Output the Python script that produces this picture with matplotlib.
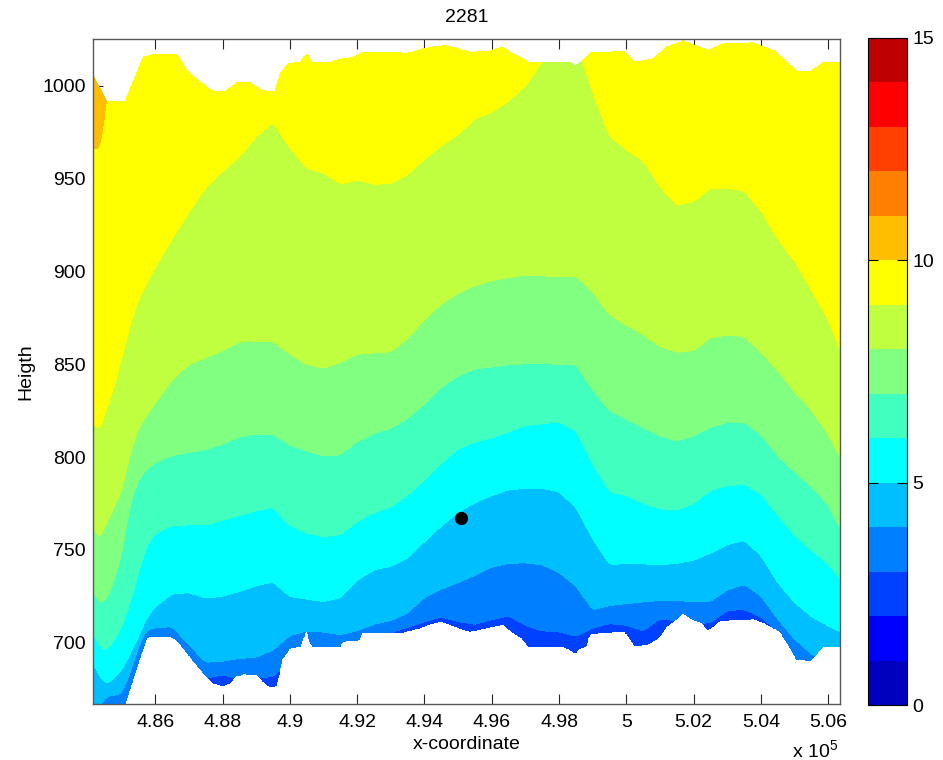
import numpy as np
import matplotlib
matplotlib.use('Agg')
import matplotlib.pyplot as plt
from matplotlib.ticker import FuncFormatter

plt.rcParams['font.family'] = ['Liberation Sans', 'DejaVu Sans']
plt.rcParams['mathtext.default'] = 'regular'

# ---------------- data ----------------
title = '2281'
x_label = 'x-coordinate'
y_label = 'Heigth'

level_edges = list(range(0, 16))
band_colors = ['#0000BF', '#0000FF', '#0040FF', '#0080FF', '#00BFFF', '#00FFFF',
               '#40FFBF', '#80FF80', '#BFFF40', '#FFFF00', '#FFBF00', '#FF8000',
               '#FF4000', '#FF0000', '#BF0000']
cbar_ticks = [0, 5, 10, 15]
x_ticks = [486000, 488000, 490000, 492000, 494000, 496000, 498000, 500000, 502000, 504000, 506000]
y_ticks = [700, 750, 800, 850, 900, 950, 1000]

# x positions where the contour-level heights were read
kx = [484150, 484350, 484550, 484800, 485000, 485250, 485500, 485750, 486000, 486500,
      487000, 487500, 488000, 488500, 489000, 489500, 490000, 490500, 491000, 491500,
      492000, 492500, 493000, 493500, 494000, 494500, 495000, 495500, 496000, 496500,
      497000, 497500, 498000, 498500, 499000, 499500, 500000, 500500, 501000, 501500,
      502000, 502500, 503000, 503500, 504000, 504500, 505000, 505500, 506000, 506350]

# height of each iso-level (value 3 ... 10) along kx
lev3 = [660, 660, 660, 660, 660, 665, 675, 685, 690, 690, 680, 681, 683, 680.5, 681, 682,
        690, 695, 695, 695, 698, 703, 705.5, 708.5, 711.5, 714, 711.5, 710, 712.5, 714.5,
        709.5, 706.5, 706, 703.5, 708, 710.5, 709.5, 706.5, 713, 712, 710, 711, 717.5,
        718, 714, 706, 688, 685, 685, 685]
lev4 = [663, 666, 671, 672, 673, 684, 698, 707, 708.2, 708.7, 699, 689.5, 690, 691.6,
        692.2, 696.2, 703.9, 706.4, 705.8, 704.4, 706.5, 710, 712, 716, 724.4, 728.9,
        732.4, 736.4, 740.8, 742.8, 743.1, 742, 737.8, 730.5, 717.8, 720, 721.1, 722,
        722.8, 722.7, 722.2, 722.3, 728.4, 731.5, 725.2, 712.8, 702, 694, 689, 688]
lev5 = [689, 682, 677.8, 681.5, 685.3, 693.8, 703.4, 713.3, 719.4, 726.3, 727, 724,
        725.2, 727.6, 730.7, 732.8, 724.9, 723.5, 722.2, 724.3, 733.7, 739.3, 741.2,
        745.5, 754.5, 762.9, 770.2, 775.6, 779.3, 782.4, 783.2, 783.2, 781.3, 773, 756,
        742.2, 742.6, 742.5, 742, 742.8, 744.5, 748.3, 752.9, 755.2, 747, 732.4, 721.7,
        714.1, 709.2, 706]
lev6 = [706, 697.9, 696, 702.3, 708.5, 721, 737.9, 752, 758.8, 763.2, 763.5, 763.5, 766,
        768.6, 771.1, 773, 763.1, 759.1, 757.2, 758.3, 765.3, 769.9, 773.1, 779.4, 787.7,
        796.5, 804.3, 808.1, 810.3, 813.5, 817, 817.9, 818.9, 814.2, 796.3, 781.5, 779.2,
        775.2, 772.1, 771.5, 775, 782, 784.5, 785.5, 780.2, 768.7, 757.8, 750, 742.5, 734.8]
lev7 = [727.8, 721.8, 723.1, 735, 747.3, 774.3, 788, 793.2, 797.2, 800.8, 802.5, 804,
        806.9, 810.9, 812.4, 812.1, 806.5, 803.3, 800.7, 801.2, 808.4, 812.7, 815.5, 820.8,
        828.6, 837.5, 843.6, 847.4, 848.5, 849.7, 850.2, 850.4, 849.9, 849.6, 836, 825,
        820.6, 815.9, 811.4, 808.7, 811.3, 816.1, 818.6, 818.8, 812, 800.5, 792.2, 784.2,
        774.3, 761.7]
lev8 = [762, 756.5, 764.2, 774.3, 781.5, 801.5, 815, 822.8, 829.1, 841.6, 849.7, 853.4,
        857.4, 862, 862.1, 862.1, 855.5, 849.8, 847.8, 851, 855.3, 856, 856.7, 863.8, 873.8,
        882.3, 888.2, 892.2, 894.9, 896.6, 898, 897.5, 897.1, 897.4, 888.7, 876.5, 871, 866,
        859.4, 856.4, 857.3, 864.3, 865.6, 864.9, 856.2, 846.7, 835, 825.4, 812, 800.2]
lev9 = [818, 815, 825.4, 839.1, 853.2, 870.7, 884.8, 893.8, 902.2, 917.6, 931.7, 945.1,
        953.8, 961.6, 972.6, 980.2, 966.6, 955.5, 953, 947.1, 949.2, 946.8, 947.3, 952.2,
        960.4, 967.6, 973.6, 982.1, 985.7, 991.7, 999.8, 1013, 1030, 1025, 996.5, 973,
        965.4, 959.6, 945.5, 935.7, 937.5, 944.7, 944.7, 943.4, 932.7, 917.2, 905.6, 890,
        873.8, 857.6]
lev10 = [966, 966, 992] + [1045] * 47

# upper and lower terrain limits of the section
top_x = [484148, 484565, 485100, 485643, 485932, 486645, 486933, 487329, 487715, 488101,
         488419, 488814, 489162, 489557, 489706, 489953, 490300, 490500, 490648, 491192,
         491489, 491885, 492182, 493273, 493471, 493965, 494610, 495353, 495947, 496295,
         496640, 497086, 498325, 498473, 498672, 498919, 499909, 500256, 500801, 501199,
         501692, 502040, 502435, 502881, 503773, 504367, 504765, 505062, 505458, 505853,
         506349]
top_y = [1005.7, 991.7, 991.7, 1015.5, 1016.8, 1016.8, 1008.3, 1002, 997, 997, 1001.7,
         1001.7, 997.6, 997, 1006.7, 1011.9, 1012.8, 1017.3, 1012.8, 1012.8, 1014.2, 1015.5,
         1018.2, 1017.7, 1017.3, 1020, 1021.8, 1018.2, 1018.7, 1020.9, 1017.3, 1012.8,
         1012.8, 1010.5, 1013.3, 1017.7, 1018.7, 1012.8, 1014.6, 1020.9, 1024.1, 1021.8,
         1019.1, 1022.7, 1023, 1019.1, 1012.8, 1008, 1007.4, 1012.5, 1012.5]
bot_x = [484148, 484800, 485000, 485100, 485744, 485842, 486437, 486636, 487031, 487427,
         487724, 488021, 488220, 488369, 488615, 489014, 489210, 489409, 489608, 489706,
         489757, 490003, 490300, 490390, 490500, 490600, 490696, 491489, 491578, 492083,
         492134, 493273, 493867, 494066, 494462, 494610, 495154, 495353, 495849, 496343,
         496592, 496895, 497086, 498126, 498325, 498473, 498622, 498800, 498869, 498919,
         499712, 499959, 500256, 500604, 500949, 501199, 501692, 501989, 502188, 502435,
         502783, 503773, 504120, 504566, 504813, 505062, 505458, 505853, 506349]
bot_y = [660, 660, 663, 667, 702.5, 703.3, 703.3, 701.6, 692.6, 683.6, 678.3, 676.8,
         678.3, 681.8, 683.1, 682.7, 679.1, 676.1, 676.8, 685.4, 690.8, 697.1, 698, 702,
         706.9, 700, 698, 698, 700.6, 701.6, 705.2, 705.2, 707.9, 709.6, 711.4, 710.9, 707,
         706, 707.9, 710, 706, 702.5, 698, 698, 696.2, 694.4, 697.1, 698, 702.5, 704.6, 706,
         706, 698.3, 698.9, 702.5, 708.7, 715.9, 712.3, 711.4, 707, 711.8, 712.9, 710.6,
         706, 698.9, 690.8, 690.3, 698, 698]

# marked point
dot_x = [495100]
dot_y = [767.4]

x_range = (484140, 506350)
y_range = (667.1, 1024.9)

# ---------------- field from the level heights ----------------
fx = np.linspace(x_range[0], x_range[1], 1100)
fy = np.linspace(650, 1040, 1100)
levels_h = np.array([lev3, lev4, lev5, lev6, lev7, lev8, lev9, lev10], dtype=float)
lev_vals = np.arange(3, 11)
hf = np.array([np.interp(fx, kx, row) for row in levels_h])
# soften the corners between read points a little
k = 9
kern = np.ones(k) / k
hf = np.array([np.convolve(np.pad(r, k // 2, mode='edge'), kern, mode='valid') for r in hf])
hf = np.maximum.accumulate(hf, axis=0) + np.arange(hf.shape[0])[:, None] * 1e-3

Z = np.empty((fy.size, fx.size))
vals = np.concatenate([[2], lev_vals, [11]])
for j in range(fx.size):
    h = np.concatenate([[hf[0, j] - 40], hf[:, j], [hf[-1, j] + 40]])
    Z[:, j] = np.interp(fy, h, vals)
FX, FY = np.meshgrid(fx, fy)
top = np.interp(fx, top_x, top_y)[None, :]
bot = np.interp(fx, bot_x, bot_y)[None, :]
Zm = np.ma.masked_where((FY > top) | (FY < bot), Z)

# ---------------- figure ----------------
W, H = 943, 760
fig = plt.figure(figsize=(W / 100, H / 100), dpi=100)
ax = fig.add_axes([92.7 / W, 1 - 704 / H, (840 - 92.7) / W, (704 - 39.3) / H])
cs = ax.contourf(FX, FY, Zm, levels=level_edges, colors=band_colors, antialiased=False)
ax.plot(dot_x, dot_y, 'o', color='k', ms=8.5, zorder=5)

ax.set_xlim(*x_range)
ax.set_ylim(*y_range)
ax.set_xticks(x_ticks)
ax.set_yticks(y_ticks)
ax.xaxis.set_major_formatter(FuncFormatter(lambda v, p: f'{v / 1e5:g}'))
ax.set_axisbelow(True)
ax.tick_params(direction='in', length=7, width=0.8, top=True, right=True,
               labelsize=14, color='0.15')
ax.tick_params(axis='x', pad=7)
ax.tick_params(axis='y', pad=5)
for s in ax.spines.values():
    s.set_color('0.35')
    s.set_linewidth(1.0)

ax.set_xlabel(x_label, fontsize=14, labelpad=4)
ax.set_ylabel(y_label, fontsize=14, labelpad=6)
fig.text((92.7 + 840) / 2 / W, 1 - 18 / H, title, ha='center', va='center', fontsize=14)
fig.text(838 / W, 1 - 750 / H, r'x 10$^{5}$', ha='right', va='center', fontsize=14)

cax = fig.add_axes([868 / W, 1 - 705 / H, 39 / W, (705 - 38) / H])
cb = fig.colorbar(cs, cax=cax, ticks=cbar_ticks)
cb.ax.tick_params(direction='in', length=7, width=0.8, left=True, right=True,
                  labelsize=14, pad=4)
cb.outline.set_edgecolor('k')
cb.outline.set_linewidth(0.8)

fig.savefig('out.png', dpi=100)
